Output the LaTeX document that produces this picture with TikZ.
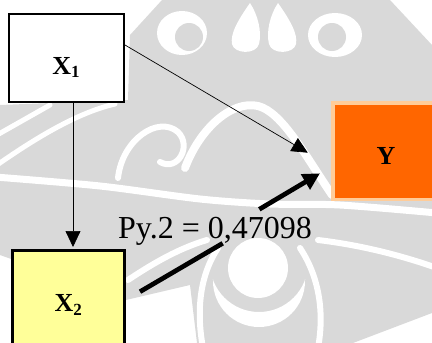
\documentclass[tikz,border=0pt]{standalone}
\usepackage{fontspec}
\setmainfont{Liberation Serif}
\usetikzlibrary{arrows.meta,calc}

\definecolor{wmgray}{RGB}{217,217,217}
\definecolor{yfill}{RGB}{255,102,0}
\definecolor{yedge}{RGB}{255,204,153}
\definecolor{xtwofill}{RGB}{255,255,153}

% lowered, smaller digit after a variable name
\newcommand\lowsub[1]{\raisebox{-3.3pt}{\fontsize{17}{17}\selectfont #1}}

\begin{document}
\begin{tikzpicture}[x=1pt,y=-1pt,
  box/.style={draw,rectangle,inner sep=0pt},
  lbl/.style={font=\fontsize{26}{26}\selectfont\bfseries,inner sep=0pt,anchor=base},
  thinarrow/.style={line width=0.7pt,-{Triangle[length=16pt,width=15pt]}},
  thickline/.style={line width=4.7pt},
  wmline/.style={white,line cap=round}]
\useasboundingbox (0,0) rectangle (432,343);

% faint emblem in the background
\begin{scope}
  \clip (0,0) rectangle (432,343);
  \fill[wmgray] (162,0) -- (390,0) -- (432,45) -- (432,313) -- (353,343)
    -- (197,343) -- (190,285) -- (126,300) -- (0,255) -- (0,105)
    -- (128,100) -- (130,35) -- cycle;
  % crown of drops
  \fill[white] (182,33) ellipse [x radius=25, y radius=22];
  \fill[wmgray] (189,37) circle [radius=14];
  \fill[white] (335,35) ellipse [x radius=27, y radius=22];
  \fill[wmgray] (332,37) circle [radius=14];
  \fill[white] (250,3) .. controls (238,20) and (230,34) .. (232,44)
    .. controls (234,54) and (256,55) .. (259,44)
    .. controls (262,32) and (258,15) .. cycle;
  \fill[white] (278,3) .. controls (270,15) and (266,32) .. (269,44)
    .. controls (272,55) and (294,54) .. (296,44)
    .. controls (298,34) and (290,20) .. cycle;
  % swirls
  \draw[wmline,line width=7pt] plot[smooth] coordinates
    {(-5,177) (100,186) (200,199) (270,204) (340,205) (437,213)};
  \draw[wmline,line width=8pt] (185,168) .. controls (200,128) and (232,100) .. (258,106)
    .. controls (282,112) and (305,155) .. (332,195);
  \draw[wmline,line width=6pt] (118,178) .. controls (122,140) and (158,115) .. (178,132)
    .. controls (192,146) and (178,172) .. (160,162);
  \draw[wmline,line width=5pt] (-3,165) .. controls (40,135) and (80,112) .. (115,104);
  \draw[wmline,line width=5pt] (-3,135) -- (50,105);
  % lower body
  \fill[white] (258,268) circle [radius=30];
  \begin{scope}
    \clip (150,279) rectangle (370,343);
    \fill[white,even odd rule] (259,281) circle [radius=46] (259,263) circle [radius=49];
  \end{scope}
  \draw[wmline,line width=6pt] (128,280) .. controls (155,262) and (180,248) .. (207,240);
  \draw[wmline,line width=6pt] (203,348) .. controls (196,310) and (200,275) .. (218,248);
  \draw[wmline,line width=6pt] (318,348) .. controls (325,310) and (318,275) .. (300,248);
  \draw[wmline,line width=6pt] (318,240) .. controls (360,245) and (400,255) .. (437,268);
\end{scope}

% boxes
\node[box,line width=1.8pt,fill=white,minimum width=115.2pt,minimum height=88.2pt]
  (x1) at (66.5,58) {};
\node[box,line width=3.4pt,fill=xtwofill,minimum width=111.6pt,minimum height=108pt]
  (x2) at (68.5,304.7) {};
\node[box,line width=3.5pt,draw=yedge,fill=yfill,minimum width=104pt,minimum height=96.5pt]
  (y) at (384.75,151) {};

% labels
\node[lbl] (x1t) at (66,74) {X\lowsub{1}};
\node[lbl] (x2t) at (68.3,311.7) {X\lowsub{2}};
\node[lbl] (yt) at (386,164) {Y};
\node[font=\fontsize{32}{32}\selectfont,inner sep=0pt,anchor=base west]
  (py) at (118,238) {Py.2 = 0,47098};

% connectors
\coordinate (yin1) at ($(y.west)+(-23.2,1.7)$);
\draw[thinarrow] ($(x1.south)+(6.5,0)$) -- ($(x2.north)+(4.5,-2)$);
\draw[thinarrow] ($(x1.east)+(0,-13)$) -- (yin1);

\coordinate (t1) at ($(x2.east)+(14,-13)$);
\coordinate (t2) at (222.7,243.3);
\coordinate (t3) at (259.3,209.3);
\coordinate (t4) at ($(y.west)+(-11,22.3)$);
\draw[thickline] (t1) -- (t2);
\draw[thickline,-{Triangle[length=17pt,width=17pt]}] (t3) -- (t4);
\end{tikzpicture}
\end{document}
